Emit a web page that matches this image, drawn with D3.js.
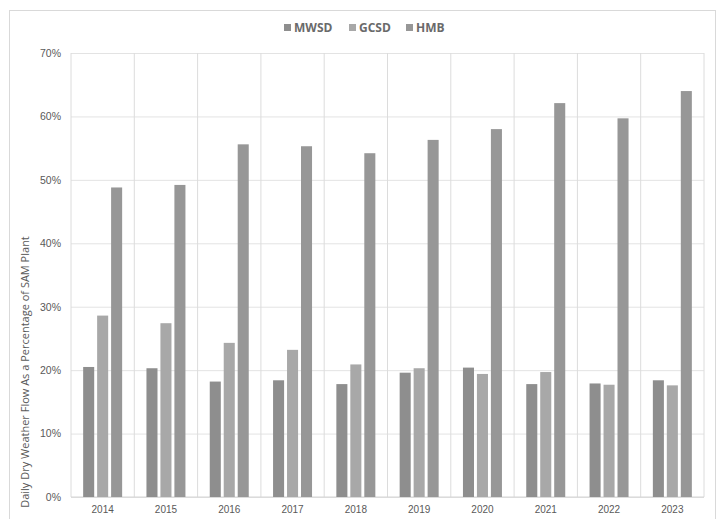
<!DOCTYPE html>
<html>
<head>
<meta charset="utf-8">
<script src="https://cdn.jsdelivr.net/npm/d3@7"></script>
<style>
  body { margin: 0; background: #fff; }
  svg { font-family: "Open Sans", "DejaVu Sans", sans-serif; }
  .tick text { fill: #595959; }
</style>
</head>
<body>
<div class="vis"></div>
<script>
// frame dimensions
const FRAME_WIDTH = 718;
const FRAME_HEIGHT = 519;
const MARGINS = {left: 71, right: 14, top: 53, bottom: 22};

const VIS_WIDTH = FRAME_WIDTH - MARGINS.left - MARGINS.right;
const VIS_HEIGHT = FRAME_HEIGHT - MARGINS.top - MARGINS.bottom;

// data (percent of SAM plant)
const years = ['2014', '2015', '2016', '2017', '2018', '2019', '2020', '2021', '2022', '2023'];
const mwsd = [20.5, 20.3, 18.2, 18.4, 17.8, 19.6, 20.4, 17.8, 17.9, 18.4];
const gcsd = [28.6, 27.4, 24.3, 23.2, 20.9, 20.3, 19.4, 19.7, 17.7, 17.6];
const hmb = [48.8, 49.2, 55.6, 55.3, 54.2, 56.3, 58.0, 62.1, 59.7, 64.0];
const series = ['MWSD', 'GCSD', 'HMB'];
const colors = ['#8e8e8e', '#a8a8a8', '#979797'];
const yTicks = [0, 10, 20, 30, 40, 50, 60, 70];

const rows = years.map((y, i) => ({year: y, MWSD: mwsd[i], GCSD: gcsd[i], HMB: hmb[i]}));

const FRAME = d3.select('.vis')
  .append('svg')
    .attr('width', FRAME_WIDTH)
    .attr('height', FRAME_HEIGHT);

// outer chart border
FRAME.append('rect')
  .attr('x', 9.5).attr('y', 10.5)
  .attr('width', 706).attr('height', 520)
  .attr('fill', 'none')
  .attr('stroke', '#d9d9d9');

// scales
const xscale = d3.scaleBand()
  .domain(years)
  .range([0, VIS_WIDTH])
  .padding(0);

const xsub = d3.scaleBand()
  .domain(series)
  .range([0, xscale.bandwidth()])
  .paddingInner(0.21)
  .paddingOuter(0.87);

const yscale = d3.scaleLinear()
  .domain([0, 70])
  .range([VIS_HEIGHT, 0]);

const G = FRAME.append('g')
  .attr('transform', 'translate(' + MARGINS.left + ',' + MARGINS.top + ')');

// horizontal gridlines + y labels
const yAxis = G.append('g')
  .call(d3.axisLeft(yscale).tickValues(yTicks).tickSize(-VIS_WIDTH).tickFormat((d) => d + '%'))
  .attr('font-size', '10.5px');
yAxis.select('.domain').remove();
yAxis.selectAll('.tick line').attr('stroke', '#e3e3e3');
yAxis.selectAll('.tick text').attr('x', -10);

// vertical category separators
G.selectAll('.vsep')
  .data(years.concat(['end']))
  .enter().append('line')
    .attr('x1', (d, i) => i < years.length ? xscale(d) : VIS_WIDTH)
    .attr('x2', (d, i) => i < years.length ? xscale(d) : VIS_WIDTH)
    .attr('y1', 0)
    .attr('y2', VIS_HEIGHT)
    .attr('stroke', '#dcdcdc');

// bottom axis line
G.append('line')
  .attr('x1', 0).attr('x2', VIS_WIDTH)
  .attr('y1', VIS_HEIGHT).attr('y2', VIS_HEIGHT)
  .attr('stroke', '#d4d4d4');

// x labels
const xAxis = G.append('g')
  .attr('transform', 'translate(0,' + VIS_HEIGHT + ')')
  .call(d3.axisBottom(xscale).tickSize(0))
  .attr('font-size', '10px');
xAxis.select('.domain').remove();
xAxis.selectAll('.tick text').attr('dy', '1.25em');

// bars
G.selectAll('.grp')
  .data(rows)
  .enter().append('g')
    .attr('transform', (d) => 'translate(' + xscale(d.year) + ',0)')
  .selectAll('rect')
  .data((d) => series.map((s) => ({key: s, value: d[s]})))
  .enter().append('rect')
    .attr('x', (d) => xsub(d.key))
    .attr('y', (d) => yscale(d.value))
    .attr('width', xsub.bandwidth())
    .attr('height', (d) => VIS_HEIGHT - yscale(d.value))
    .attr('fill', (d) => colors[series.indexOf(d.key)]);

// y axis title
FRAME.append('text')
  .attr('transform', 'translate(29,' + 372 + ') rotate(-90)')
  .attr('text-anchor', 'middle')
  .attr('font-size', '11px')
  .attr('fill', '#595959')
  .text('Daily Dry Weather Flow As a Percentage of SAM Plant');

// legend
const legendX = [284, 349, 406];
const legend = FRAME.selectAll('.leg')
  .data(series)
  .enter().append('g')
    .attr('transform', (d, i) => 'translate(' + legendX[i] + ',24)');
legend.append('rect')
  .attr('width', 7).attr('height', 7)
  .attr('y', 0)
  .attr('fill', (d, i) => colors[i]);
legend.append('text')
  .attr('x', 10).attr('y', 8)
  .attr('font-size', '12px')
  .attr('font-weight', 'bold')
  .attr('fill', '#6a6a6a')
  .text((d) => d);
</script>
</body>
</html>
